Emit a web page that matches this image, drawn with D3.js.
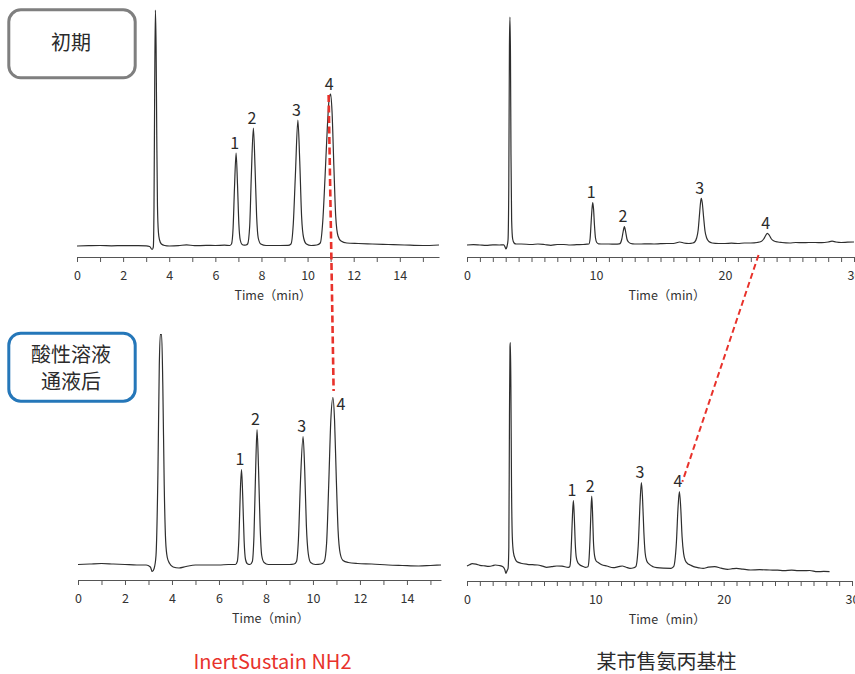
<!DOCTYPE html>
<html><head><meta charset="utf-8">
<script src="https://cdn.jsdelivr.net/npm/d3@7/dist/d3.min.js"></script>
<style>
html,body{margin:0;padding:0;background:#fff;}
svg{display:block;font-family:"Noto Sans CJK SC","Noto Sans",sans-serif;}
</style></head>
<body>
<svg id="chart" width="855" height="674"></svg>
<script>
// ---------------- DATA ----------------
const columnNames = ["InertSustain NH2", "某市售氨丙基柱"];
const conditionNames = [["初期"], ["酸性溶液", "通液后"]];
const axisTitle = "Time（min）";
const leftTickValues = d3.range(0, 16, 1);
const leftTickLabels = [0, 2, 4, 6, 8, 10, 12, 14];
const rightTickValues = d3.range(0, 31, 1);
const rightTickLabels = [0, 10, 20, 30];
const peakIds = ["1", "2", "3", "4"];

// chromatogram traces: [time (min), signal (a.u. above baseline)]
const traceInertInitial = [
  [0,0],[0.5,0.3],[1,0.5],[1.5,0.2],[2,0.4],[2.5,0.3],[3.0,0.2],[3.15,-0.5],[3.26,-3.5],[3.31,-1],
  [3.34,40],[3.37,160],[3.40,236],[3.43,200],[3.46,110],[3.49,40],[3.53,14],[3.58,6],[3.66,2],[3.8,0.5],
  [4.0,0],[4.4,0.3],[4.75,1.2],[5.1,0.3],[5.6,0.6],[6.0,0.5],[6.4,0.8],[6.62,0.5],
  [6.70,2],[6.77,18],[6.83,58],[6.90,93],[6.96,62],[7.02,22],[7.08,6],[7.16,1.5],[7.25,0.8],[7.33,1],
  [7.40,2],[7.49,20],[7.56,70],[7.65,118],[7.72,80],[7.79,30],[7.86,8],[7.97,2],[8.2,0.5],[8.8,0.5],[9.15,0.6],
  [9.28,2],[9.38,22],[9.47,70],[9.58,126],[9.66,85],[9.74,30],[9.83,8],[9.95,2],[10.15,0.5],[10.4,1],
  [10.55,3],[10.66,25],[10.76,70],[10.86,120],[10.94,148],[11.0,152],[11.06,135],[11.14,80],[11.22,30],
  [11.32,10],[11.45,5],[11.7,3],[12.2,2.5],[12.8,2],[13.5,1.5],[14.2,1],[15.0,0.5],[15.7,1]
];
const traceOtherInitial = [
  [0,0],[0.5,0.3],[1,0],[1.5,-0.3],[2,0.2],[2.5,0],[2.85,0.2],[2.95,-2],[3.02,-4],[3.10,-1.5],
  [3.18,5],[3.24,60],[3.29,200],[3.33,228],[3.37,190],[3.41,90],[3.46,25],[3.54,6],[3.65,2],[3.8,1],
  [4.2,1],[5,0.5],[5.5,1],[6,0.5],[6.5,-0.3],[7,0.5],[7.5,0.5],[8,0],[8.5,0.3],[9,0.5],[9.3,0.8],
  [9.45,1],[9.54,6],[9.62,22],[9.69,36],[9.75,42.5],[9.81,36],[9.88,20],[9.96,7],[10.06,2.5],[10.2,1.2],
  [10.6,1],[11,1],[11.5,0.8],[11.8,1.2],
  [11.9,2],[12.0,6],[12.1,13],[12.2,18.3],[12.3,13],[12.4,6],[12.52,3],[12.7,1.5],[13,1],
  [13.5,1],[14,1.2],[14.5,1],[15,1.3],[15.5,1.5],[16,1.5],[16.5,3],[16.8,2],[17.2,1.5],[17.5,2],
  [17.65,3],[17.8,7],[17.92,15],[18.02,30],[18.1,42],[18.16,46.7],[18.24,42],[18.34,28],[18.45,14],
  [18.58,7],[18.75,3.5],[19.0,2],[19.5,1.5],[20,1.5],[20.5,1.8],[21,1.5],[21.5,2],[22,2],[22.5,2.5],
  [22.8,3.5],[23.0,6],[23.15,9.5],[23.28,11.7],[23.42,10],[23.6,6],[23.8,4],[24.1,3],[24.4,2.5],
  [25,2],[25.5,2.5],[26,2.3],[26.5,2.5],[27,2.5],[27.5,2.3],[28.0,3],[28.3,3.8],[28.6,3],[29,2.5],[29.5,2.8],[30,3]
];
const traceInertAcid = [
  [0,1],[0.5,1.5],[1,2],[1.5,1.5],[2,1],[2.5,0.5],[2.9,0.5],[3.08,-1.5],[3.16,-6],[3.24,-3],
  [3.32,10],[3.40,90],[3.46,200],[3.50,231],[3.56,231],[3.61,180],[3.67,80],[3.73,25],[3.80,8],[3.9,2],
  [4.05,-1.5],[4.3,-2.5],[4.6,-1],[5.0,0.5],[5.5,0.5],[6.0,0.5],[6.4,1],[6.7,1],
  [6.78,4],[6.85,28],[6.91,75],[6.96,96],[7.01,70],[7.07,25],[7.13,6],[7.22,1.5],[7.32,1],
  [7.42,4],[7.49,30],[7.56,95],[7.62,136],[7.68,100],[7.75,40],[7.82,10],[7.92,3],[8.1,1],[8.6,1],[9.0,1],[9.2,1.5],
  [9.30,4],[9.38,25],[9.47,85],[9.58,129],[9.65,95],[9.72,40],[9.80,12],[9.90,3],[10.1,1],[10.35,1.5],
  [10.48,4],[10.58,22],[10.67,80],[10.76,145],[10.85,168],[10.92,145],[10.99,90],[11.07,35],[11.16,12],
  [11.28,5],[11.5,3],[11.9,2],[12.5,1.5],[13.2,0.5],[13.8,0],[14.5,-0.5],[15.0,0],[15.45,0.5]
];
const traceOtherAcid = [
  [0,0.7],[0.2,2],[0.4,3],[0.7,2.5],[1.0,1.4],[1.4,0.8],[1.7,0.4],[2.0,1],[2.2,1.7],[2.5,1.2],[2.8,0],
  [2.95,-3],[3.03,-6.6],[3.12,-4],[3.2,-1.6],[3.26,20],[3.31,150],[3.35,220],[3.38,224],[3.42,180],
  [3.47,80],[3.53,30],[3.62,14],[3.75,8],[3.9,5],[4.2,3.5],[4.7,2.4],[5.1,2],[5.5,1.7],[5.9,0.5],
  [6.2,-0.6],[6.6,0],[7.0,0.7],[7.4,0.5],[7.9,-0.6],
  [8.0,0],[8.07,6],[8.14,25],[8.22,52],[8.29,66],[8.36,50],[8.44,22],[8.52,9],[8.64,4],[8.78,2],[9.0,0.5],[9.2,-0.6],
  [9.42,0],[9.5,6],[9.58,26],[9.66,56],[9.72,70.7],[9.78,55],[9.85,26],[9.94,11],[10.05,6],[10.25,4],
  [10.5,2],[10.9,0.7],[11.4,-1],[11.8,0],[12.1,0.7],[12.4,-0.5],[12.7,-1.6],[13.0,-1],
  [13.15,0],[13.25,6],[13.36,25],[13.47,60],[13.59,84],[13.68,68],[13.78,35],[13.88,14],[14.0,6],
  [14.2,2.5],[14.5,0],[14.8,-1],[15.3,-1.5],[15.9,-1.6],
  [16.1,0],[16.2,6],[16.32,25],[16.44,58],[16.55,75],[16.65,60],[16.76,30],[16.88,13],[17.02,6],
  [17.2,3],[17.4,1.7],[17.8,-0.5],[18.1,-1.2],[18.4,-1.6],[18.8,-0.5],[19.3,0],[19.8,-1.5],[20.3,-2.7],
  [20.7,-2],[21.0,-1.6],[21.5,-2.5],[22.1,-3.3],[22.8,-3],[23.6,-3.3],[24.2,-3.5],[24.7,-4],[25.3,-3.5],
  [25.8,-4],[26.2,-4],[26.7,-3.8],[27.3,-5],[27.8,-4.7],[28.25,-5]
];

// apex of numbered peaks: times and heights
const peakTimesInertInitial = [6.90, 7.65, 9.58, 11.0];
const peakHeightsInertInitial = [93, 118, 126, 152];
const peakTimesOtherInitial = [9.75, 12.2, 18.16, 23.28];
const peakHeightsOtherInitial = [42.5, 18.3, 46.7, 11.7];
const peakTimesInertAcid = [6.96, 7.62, 9.58, 10.85];
const peakHeightsInertAcid = [96, 136, 129, 168];
const peakTimesOtherAcid = [8.29, 9.72, 13.59, 16.55];
const peakHeightsOtherAcid = [66, 70.7, 84, 75];

// ---------------- LAYOUT ----------------
const svg = d3.select("#chart");
const red = "#e8322b";
const textCol = "#2b2b2b";

const panels = [
  {trace: traceInertInitial, pt: peakTimesInertInitial, ph: peakHeightsInertInitial,
   dom: [0, 15.7], rng: [77, 439], axisY: 257, baseY: 246, ticks: leftTickValues, labels: leftTickLabels, titleT: 8.5},
  {trace: traceOtherInitial, pt: peakTimesOtherInitial, ph: peakHeightsOtherInitial,
   dom: [0, 30], rng: [467, 854], axisY: 257, baseY: 245, ticks: rightTickValues, labels: rightTickLabels, titleT: 15.5},
  {trace: traceInertAcid, pt: peakTimesInertAcid, ph: peakHeightsInertAcid,
   dom: [0, 15.45], rng: [78, 441], axisY: 580, baseY: 565.5, ticks: leftTickValues, labels: leftTickLabels, titleT: 8.2},
  {trace: traceOtherAcid, pt: peakTimesOtherAcid, ph: peakHeightsOtherAcid,
   dom: [0, 30], rng: [467, 852], axisY: 581, baseY: 566.7, ticks: rightTickValues, labels: rightTickLabels, titleT: 15.6}
];

panels.forEach((p, i) => {
  p.x = d3.scaleLinear().domain(p.dom).range(p.rng);
  p.y = d3.scaleLinear().domain([0, 100]).range([p.baseY, p.baseY - 100]);
  const g = svg.append("g");

  // axis
  const ax = d3.axisBottom(p.x).tickValues(p.ticks).tickSize(5).tickSizeOuter(0).tickPadding(9)
    .tickFormat(d => p.labels.includes(d) ? d : "");
  const ag = g.append("g").attr("transform", `translate(0,${p.axisY})`).call(ax);
  ag.select(".domain").attr("stroke", "#555").attr("stroke-width", 1);
  ag.selectAll(".tick line").attr("stroke", "#555");
  ag.selectAll(".tick text").attr("fill", "#333").attr("font-size", 12.5)
    .attr("font-family", '"Noto Sans CJK SC","Noto Sans",sans-serif');

  g.append("text").attr("x", p.x(p.titleT)).attr("y", p.axisY + 43)
    .attr("text-anchor", "middle").attr("font-size", 12.5).attr("fill", "#333").text(axisTitle);

  // trace
  const line = d3.line().x(d => p.x(d[0])).y(d => p.y(d[1])).curve(d3.curveMonotoneX);
  g.append("path").datum(p.trace).attr("d", line)
    .attr("fill", "none").attr("stroke", "#2e2e2e").attr("stroke-width", 1.2).attr("stroke-linejoin", "round");

  // peak labels
  peakIds.forEach((id, k) => {
    let lx = p.x(p.pt[k]) - 1.5, ly = p.y(p.ph[k]) - 4.5, anchor = "middle";
    if (i === 2 && k === 3) { lx = p.x(p.pt[k]) + 3.5; ly = p.y(p.ph[k]) + 12; anchor = "start"; }
    g.append("text").attr("x", lx).attr("y", ly).attr("text-anchor", anchor)
      .attr("font-size", 16).attr("fill", textCol).text(id);
  });
});

// red dashed connectors between peak 4 positions
const P = panels;
svg.append("line")
  .attr("x1", P[0].x(P[0].pt[3]) - 2).attr("y1", P[0].y(P[0].ph[3]) + 1)
  .attr("x2", P[2].x(P[2].pt[3]) + 0.7).attr("y2", P[2].y(P[2].ph[3]) - 6.5)
  .attr("stroke", red).attr("stroke-width", 2.6).attr("stroke-dasharray", "7,3.5");
svg.append("line")
  .attr("x1", P[1].x(22.6)).attr("y1", P[1].axisY - 2)
  .attr("x2", P[3].x(P[3].pt[3]) + 3).attr("y2", P[3].y(P[3].ph[3]) - 10)
  .attr("stroke", red).attr("stroke-width", 2).attr("stroke-dasharray", "6,3.5");

// condition boxes
const boxes = [
  {y: 9.8, stroke: "#7f7f7f", lines: conditionNames[0], ty: [43]},
  {y: 333.2, stroke: "#2577b9", lines: conditionNames[1], ty: [355, 381.7]}
];
boxes.forEach(b => {
  svg.append("rect").attr("x", 8.8).attr("y", b.y).attr("width", 126.4).attr("height", 68)
    .attr("rx", 12).attr("ry", 12).attr("fill", "#fff").attr("stroke", b.stroke).attr("stroke-width", 3);
  b.lines.forEach((t, j) => {
    svg.append("text").attr("x", 71).attr("y", b.ty[j]).attr("dy", "0.35em")
      .attr("text-anchor", "middle").attr("font-size", 20).attr("fill", textCol).text(t);
  });
});

// column labels
svg.append("text").attr("x", 272.5).attr("y", 662).attr("dy", "0.35em").attr("text-anchor", "middle")
  .attr("font-size", 20).attr("fill", red).text(columnNames[0]);
svg.append("text").attr("x", 666.5).attr("y", 662).attr("dy", "0.35em").attr("text-anchor", "middle")
  .attr("font-size", 20).attr("fill", textCol).text(columnNames[1]);
</script>
</body></html>
